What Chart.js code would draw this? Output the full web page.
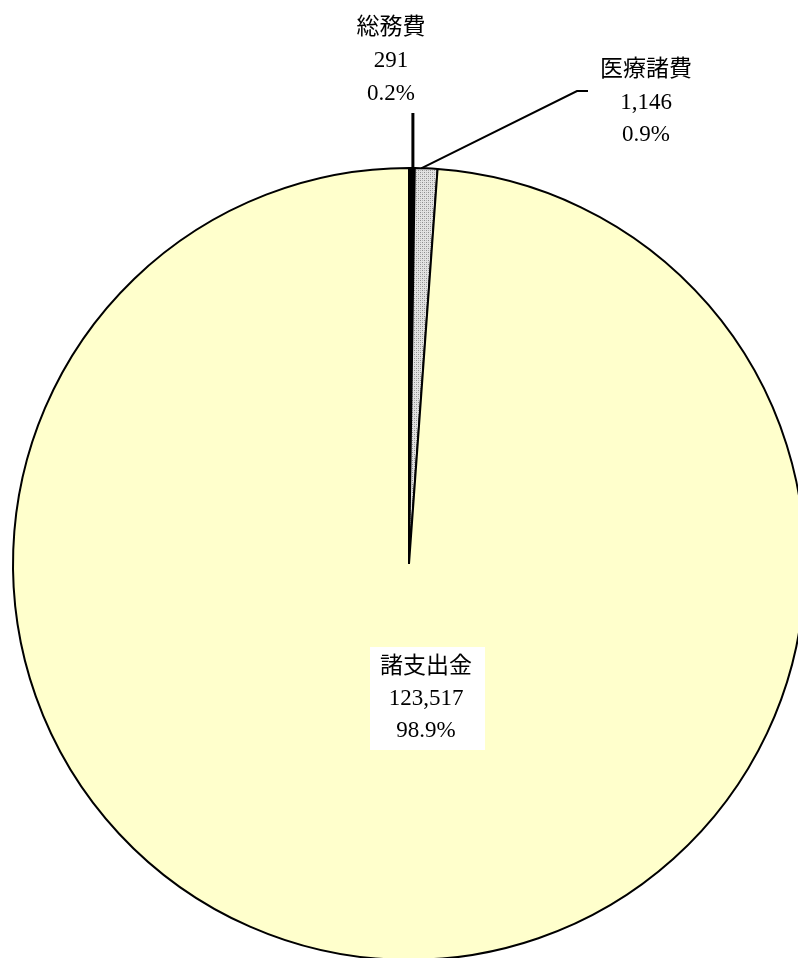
<html>
<head>
<meta charset="utf-8">
<style>
  html, body { margin: 0; padding: 0; background: #fff; overflow: hidden; }
  #wrap { position: absolute; left: 0; top: 0; }
  canvas { display: block; }
</style>
</head>
<body>
<div id="wrap">
  <canvas id="pieChart" width="830" height="1000"></canvas>
</div>

<script src="https://cdn.jsdelivr.net/npm/chart.js"></script>
<script>
  // データ
  const labels = ['総務費', '医療諸費', '諸支出金'];
  const values = [291, 1146, 123517];
  const percents = ['0.2%', '0.9%', '98.9%'];

  const FONT = '23px "Liberation Serif", "Noto Sans CJK JP", serif';

  // 医療諸費の網掛け
  const pc = document.createElement('canvas');
  pc.width = 4; pc.height = 4;
  const pctx = pc.getContext('2d');
  pctx.fillStyle = '#e2e2e2';
  pctx.fillRect(0, 0, 4, 4);
  pctx.fillStyle = '#8c8c8c';
  pctx.fillRect(0, 0, 1, 1);
  pctx.fillRect(2, 2, 1, 1);
  pctx.fillStyle = '#b4b4b4';
  pctx.fillRect(2, 0, 1, 1);
  pctx.fillRect(0, 2, 1, 1);
  const ctx = document.getElementById('pieChart').getContext('2d');
  const hatch = ctx.createPattern(pc, 'repeat');

  function textLines(c, lines, x, y, gap) {
    lines.forEach((t, i) => c.fillText(t, x, y + i * gap));
  }

  // ラベルと引き出し線
  const labelPlugin = {
    id: 'labelPlugin',
    afterDraw(chart) {
      const c = chart.ctx;
      const arcs = chart.getDatasetMeta(0).data;
      const cx = arcs[0].x, cy = arcs[0].y;
      const r = arcs[0].outerRadius;
      const edge = (arc) => {
        const m = (arc.startAngle + arc.endAngle) / 2;
        return [cx + r * Math.cos(m), cy + r * Math.sin(m)];
      };

      c.save();
      c.strokeStyle = '#000';
      c.lineCap = 'butt';

      // 総務費
      let p = edge(arcs[0]);
      c.lineWidth = 3;
      c.beginPath();
      c.moveTo(p[0] + 1, p[1] + 2);
      c.lineTo(p[0] + 1, cy - 451);
      c.stroke();

      // 医療諸費
      p = edge(arcs[1]);
      c.lineWidth = 2;
      c.beginPath();
      c.moveTo(p[0] - 5, p[1]);
      c.lineTo(cx + 168, cy - 473);
      c.lineTo(cx + 179, cy - 473);
      c.stroke();

      c.font = FONT;
      c.fillStyle = '#000';
      c.textAlign = 'center';
      c.textBaseline = 'middle';

      textLines(c, [labels[0], values[0].toLocaleString('en-US'), percents[0]], cx - 18, cy - 536, 33);
      textLines(c, [labels[1], values[1].toLocaleString('en-US'), percents[1]], cx + 237, cy - 494, 32.5);

      // 諸支出金（白背景）
      c.fillStyle = '#fff';
      c.fillRect(cx - 39, cy + 83, 115, 103);
      c.fillStyle = '#000';
      textLines(c, [labels[2], values[2].toLocaleString('en-US'), percents[2]], cx + 17, cy + 103, 32);
      c.restore();
    }
  };

  new Chart(ctx, {
    type: 'pie',
    data: {
      labels: labels,
      datasets: [{
        data: values,
        backgroundColor: ['#000000', hatch, '#ffffcc'],
        borderColor: '#000',
        borderWidth: 2,
        hoverBorderWidth: 2,
        hoverOffset: 0
      }]
    },
    options: {
      responsive: false,
      animation: false,
      layout: { padding: { left: 12, top: 167, right: 24, bottom: 39 } },
      plugins: {
        legend: { display: false },
        tooltip: { enabled: false }
      }
    },
    plugins: [labelPlugin]
  });
</script>
</body>
</html>
